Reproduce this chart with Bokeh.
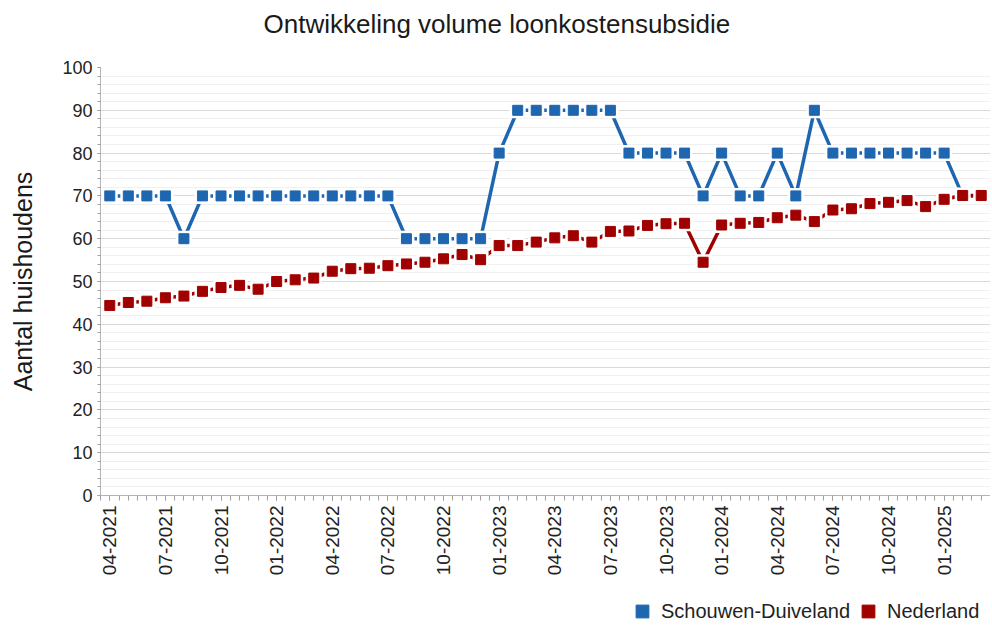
import math
from bokeh.plotting import figure
from bokeh.layouts import column
from bokeh.models import (FixedTicker, SingleIntervalTicker, Legend, LegendItem,
                          ColumnDataSource, Range1d, LinearAxis)
from bokeh.embed import file_html
from bokeh.resources import INLINE

months = ["04-2021", "05-2021", "06-2021", "07-2021", "08-2021", "09-2021",
          "10-2021", "11-2021", "12-2021", "01-2022", "02-2022", "03-2022",
          "04-2022", "05-2022", "06-2022", "07-2022", "08-2022", "09-2022",
          "10-2022", "11-2022", "12-2022", "01-2023", "02-2023", "03-2023",
          "04-2023", "05-2023", "06-2023", "07-2023", "08-2023", "09-2023",
          "10-2023", "11-2023", "12-2023", "01-2024", "02-2024", "03-2024",
          "04-2024", "05-2024", "06-2024", "07-2024", "08-2024", "09-2024",
          "10-2024", "11-2024", "12-2024", "01-2025", "02-2025", "03-2025"]

schouwen = [70, 70, 70, 70, 60, 70, 70, 70, 70, 70, 70, 70,
            70, 70, 70, 70, 60, 60, 60, 60, 60, 80, 90, 90,
            90, 90, 90, 90, 80, 80, 80, 80, 70, 80, 70, 70,
            80, 70, 90, 80, 80, 80, 80, 80, 80, 80, 70, 70]

nederland = [44.4, 45.1, 45.4, 46.2, 46.6, 47.7, 48.6, 49.1, 48.2, 50.0, 50.4, 50.8,
             52.4, 53.0, 53.1, 53.7, 54.1, 54.5, 55.3, 56.3, 55.1, 58.4, 58.4, 59.2,
             60.2, 60.7, 59.2, 61.7, 61.8, 63.1, 63.5, 63.6, 54.5, 63.2, 63.6, 63.8,
             64.9, 65.5, 64.0, 66.7, 67.0, 68.2, 68.5, 68.9, 67.5, 69.2, 70.1, 70.1]

series_names = ["Schouwen-Duiveland", "Nederland"]
title_text = "Ontwikkeling volume loonkostensubsidie"
y_label = "Aantal huishoudens"
blue = "#1f66b0"
red = "#a00000"
FONT = "Liberation Sans"

idx = list(range(len(months)))
src = ColumnDataSource(dict(x=idx, sd=schouwen, nl=nederland))

W = 990
p = figure(width=W, height=578, output_backend="svg", toolbar_location=None,
           x_range=Range1d(-0.5, len(months) - 0.5), y_range=Range1d(0, 100),
           min_border_left=100, min_border_right=0, min_border_top=67,
           min_border_bottom=10)
p.outline_line_color = None
p.background_fill_color = "white"
xa = p.below[0]
ya = p.left[0]

# title (outermost above); an invisible spacer axis sits between it and the frame
p.title.text = title_text
p.title.text_font = FONT
p.title.text_font_size = "26px"
p.title.text_font_style = "normal"
p.title.text_color = "#1a1a1a"
p.title.align = "left"
p.title.offset = 163
p.title.standoff = 10

spacer = LinearAxis(ticker=FixedTicker(ticks=[0]), axis_line_color=None,
                    major_tick_out=24, major_tick_in=0, minor_tick_out=0,
                    minor_tick_in=0, major_label_standoff=0,
                    major_label_overrides={0: " "},
                    major_label_text_font_size="1px",
                    major_label_text_color=None,
                    major_tick_line_color=None, minor_tick_line_color=None)
p.add_layout(spacer, "above")

# lines + markers
for col, color in (("sd", blue), ("nl", red)):
    p.line("x", col, source=src, line_color=color, line_width=3.5)
    p.scatter("x", col, source=src, marker="square", size=16,
              fill_color="white", line_color="white", line_width=0)
    p.scatter("x", col, source=src, marker="square", size=10,
              fill_color=color, line_color=color, line_width=1)

# x axis
xa.ticker = FixedTicker(ticks=[i for i in idx if i % 3 == 0],
                        minor_ticks=[i / 2 - 0.5 for i in range(2 * len(months) + 1)])
xa.major_label_overrides = {i: months[i] for i in idx if i % 3 == 0}
xa.major_label_orientation = math.pi / 2
xa.major_label_text_font = FONT
xa.major_label_text_font_size = "19px"
xa.major_label_text_color = "#222222"
xa.major_label_standoff = 5
xa.axis_line_color = "#b4b4b4"
xa.major_tick_line_color = "#a0a0a0"
xa.minor_tick_line_color = "#a0a0a0"
xa.major_tick_out = 5
xa.major_tick_in = 0
xa.minor_tick_out = 5
xa.minor_tick_in = 0

# y axis
ya.ticker = SingleIntervalTicker(interval=10, num_minor_ticks=5)
ya.major_label_text_font = FONT
ya.major_label_text_font_size = "18px"
ya.major_label_text_color = "#222222"
ya.major_label_standoff = 5
ya.axis_line_color = "#b4b4b4"
ya.major_tick_line_color = "#a0a0a0"
ya.minor_tick_line_color = "#a0a0a0"
ya.major_tick_out = 3
ya.major_tick_in = 0
ya.minor_tick_out = 3
ya.minor_tick_in = 0
ya.axis_label = y_label
ya.axis_label_text_font = FONT
ya.axis_label_text_font_size = "25px"
ya.axis_label_text_font_style = "normal"
ya.axis_label_text_color = "#1a1a1a"
ya.axis_label_standoff = 22

# grids
p.xgrid.grid_line_color = None
p.ygrid.grid_line_color = "#d9d9d9"
p.ygrid.minor_grid_line_color = "#f0f0f0"

# legend strip below the chart (its frame is aligned with the chart's frame);
# its proxy renderers use the same data but lie outside this strip's ranges
lg = figure(width=W, height=46, output_backend="svg", toolbar_location=None,
            x_axis_type=None, y_axis_type=None, min_border=0,
            x_range=Range1d(-0.5, len(months) - 0.5), y_range=Range1d(-20, -10))
lg.outline_line_color = None
lg.grid.visible = False
items = []
for name, col, color in zip(series_names, ("sd", "nl"), (blue, red)):
    r = lg.scatter("x", col, source=src, marker="square", size=13,
                   fill_color=color, line_color=color)
    items.append(LegendItem(label=name, renderers=[r]))
legend = Legend(items=items, orientation="horizontal", location=(526, -3),
                glyph_width=32, glyph_height=32, label_standoff=3, spacing=2,
                padding=0, margin=0, border_line_color=None,
                background_fill_alpha=0,
                label_text_font=FONT, label_text_font_size="20px",
                label_text_color="#222222")
lg.add_layout(legend, "center")

page = column(p, lg, spacing=0)
open("out.html", "w").write(file_html(page, INLINE))
